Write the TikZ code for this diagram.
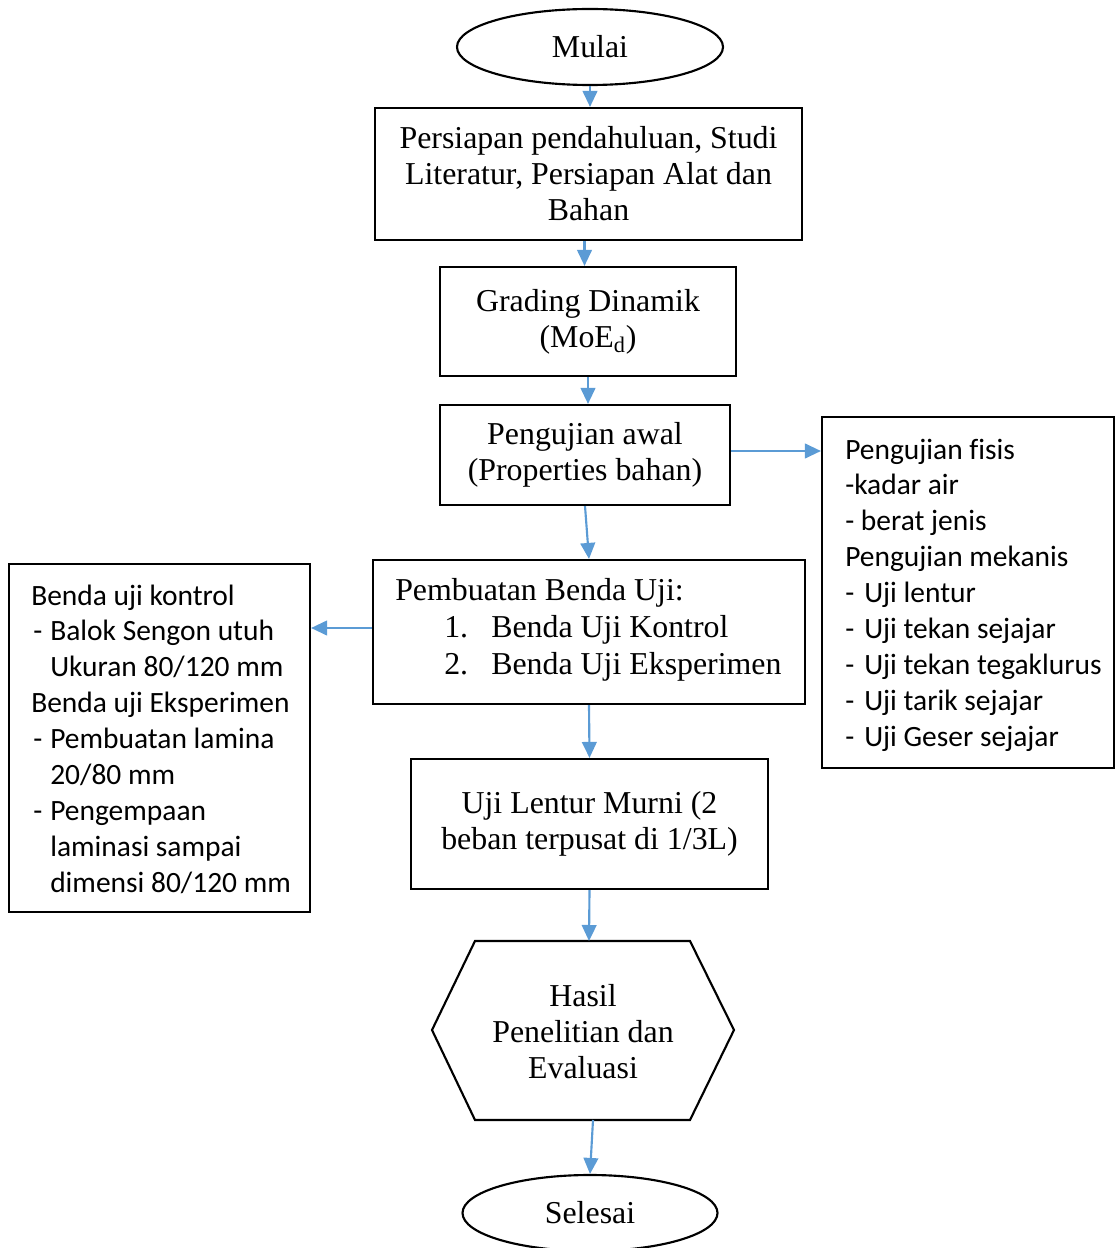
\documentclass[tikz,border=0pt]{standalone}
\usepackage{fontspec}
\setmainfont{Liberation Serif}
\newfontfamily\calib[Ligatures=NoCommon]{Carlito}
\usetikzlibrary{shapes.geometric,arrows.meta}
\definecolor{arrblue}{RGB}{91,155,213}
\tikzset{
  box/.style={draw=black,line width=1.6pt,rectangle,inner sep=0pt},
  oval/.style={draw=black,line width=1.6pt,ellipse,inner sep=0pt},
  serif/.style={font=\fontsize{23.9}{27}\selectfont,align=center},
  sline/.style={anchor=base west,inner sep=0pt,font=\fontsize{23.9}{27}\selectfont},
  cline/.style={anchor=base west,inner sep=0pt,font=\calib\fontsize{22.1}{27}\selectfont},
  arr/.style={draw=arrblue,line width=1.6pt,-{Triangle[length=12pt,width=11pt]}}
}
\begin{document}
\begin{tikzpicture}[x=0.75pt,y=-0.75pt]
\useasboundingbox (0,0) rectangle (1115,1248);
% main nodes
\node[oval,minimum width=199.5pt,minimum height=57pt,serif] (m) at (590,47) {Mulai};
\node[box,minimum width=320.25pt,minimum height=99pt,serif] (b1) at (588.5,174)
  {Persiapan pendahuluan, Studi\\Literatur, Persiapan Alat dan\\Bahan};
\node[box,minimum width=222pt,minimum height=81.75pt,serif] (b2) at (588,321.5)
  {Grading Dinamik\\(MoE\textsubscript{d})};
\node[box,minimum width=217.5pt,minimum height=75pt,serif] (b3) at (585,455)
  {Pengujian awal\\(Properties bahan)};
\node[box,minimum width=219pt,minimum height=263.25pt] (rb) at (968,592.5) {};
\node[box,minimum width=324pt,minimum height=108pt] (b4) at (589,632) {};
\node[box,minimum width=225.75pt,minimum height=261pt] (lb) at (159.5,738) {};
\node[box,minimum width=267.75pt,minimum height=97.5pt,serif] (b5) at (589.5,824)
  {Uji Lentur Murni (2\\beban terpusat di 1/3L)};
% hexagon
\coordinate (hT) at (589,941);
\coordinate (hB) at (593,1120);
\draw[line width=1.6pt,line join=miter] (475,941) -- (690,941) -- (734,1030) -- (690,1120) -- (475,1120) -- (432,1030) -- cycle;
\node[serif] (hx) at (583,1032) {Hasil\\Penelitian dan\\Evaluasi};
\node[oval,minimum width=191.25pt,minimum height=57pt,serif] (se) at (590,1213) {Selesai};
% box4 text
\node[sline] (t41) at (395,600) {Pembuatan Benda Uji:};
\node[sline] (t42) at (444,637) {1.};
\node[sline] (t43) at (491,637) {Benda Uji Kontrol};
\node[sline] (t44) at (444,674) {2.};
\node[sline] (t45) at (491,674) {Benda Uji Eksperimen};
% right box text
\node[cline] (r1) at (845,459) {Pengujian fisis};
\node[cline] (r2) at (845,494) {-kadar air};
\node[cline] (r3) at (845,530) {- berat jenis};
\node[cline] (r4) at (845,566) {Pengujian mekanis};
\node[cline] (r5) at (845,602) {-};
\node[cline] (r5b) at (864,602) {Uji lentur};
\node[cline] (r6) at (845,638) {-};
\node[cline] (r6b) at (864,638) {Uji tekan sejajar};
\node[cline] (r7) at (845,674) {-};
\node[cline] (r7b) at (864,674) {Uji tekan tegaklurus};
\node[cline] (r8) at (845,710) {-};
\node[cline] (r8b) at (864,710) {Uji tarik sejajar};
\node[cline] (r9) at (845,746) {-};
\node[cline] (r9b) at (864,746) {Uji Geser sejajar};
% left box text
\node[cline] (l1) at (31,605) {Benda uji kontrol};
\node[cline] (l2) at (33,640) {-};
\node[cline] (l2b) at (50,640) {Balok Sengon utuh};
\node[cline] (l3) at (50,676) {Ukuran 80/120 mm};
\node[cline] (l4) at (31,712) {Benda uji Eksperimen};
\node[cline] (l5) at (33,748) {-};
\node[cline] (l5b) at (50,748) {Pembuatan lamina};
\node[cline] (l6) at (50,784) {20/80 mm};
\node[cline] (l7) at (33,820) {-};
\node[cline] (l7b) at (50,820) {Pengempaan};
\node[cline] (l8) at (50,856) {laminasi sampai};
\node[cline] (l9) at (50,892) {dimensi 80/120 mm};
% arrows
\draw[arr] (m.south) -- (m.south |- b1.north);
\draw[arr] ([xshift=-3pt]b1.south) -- ([xshift=-3pt]b1.south |- b2.north);
\draw[arr] (b2.south) -- (b2.south |- b3.north);
\draw[arr] ([yshift=3pt]b3.east) -- ([yshift=3pt]b3.east -| rb.west);
\draw[arr] (b3.south) -- (b4.north);
\draw[arr] ([yshift=3pt]b4.west) -- ([yshift=3pt]b4.west -| lb.east);
\draw[arr] (b4.south) -- (b5.north);
\draw[arr] (b5.south) -- (hT);
\draw[arr] (hB) -- (se.north);
\end{tikzpicture}
\end{document}
